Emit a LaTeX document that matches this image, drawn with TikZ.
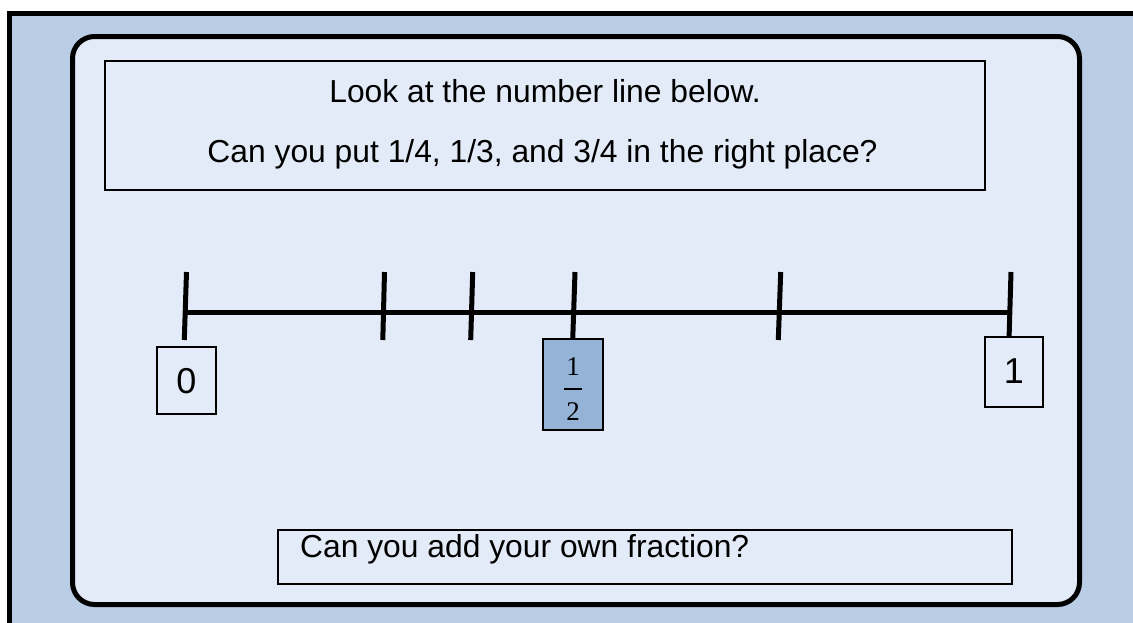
\documentclass[tikz,border=0pt]{standalone}
\usepackage{fontspec}
\setmainfont{Liberation Sans}
\newfontfamily\fracfont{Liberation Serif}
\definecolor{outerblue}{HTML}{B9CDE5}
\definecolor{innerblue}{HTML}{E3EBF8}
\definecolor{halfblue}{HTML}{95B3D7}
\begin{document}
\begin{tikzpicture}[x=1pt,y=-1pt,
  txt/.style={font=\fontsize{31.8}{38}\selectfont, inner sep=0pt},
  numtxt/.style={font=\fontsize{36}{42}\selectfont, inner sep=0pt},
  fractxt/.style={font=\fracfont\fontsize{27}{32}\selectfont, inner sep=0pt},
  lab/.style={draw=black, line width=1.2pt, fill=innerblue, inner sep=0pt},
  tick/.style={line width=5pt},
]
\useasboundingbox (0,0) rectangle (1133,622);
\begin{scope}
\clip (0,0) rectangle (1133,622);
\draw[line width=4.5pt, fill=outerblue] (9.5,13.5) rectangle (1150,640);
\end{scope}
\draw[line width=5pt, fill=innerblue, rounded corners=22pt] (72.5,36.5) rectangle (1079.5,604.5);
% top question box
\node[lab, minimum width=880pt, minimum height=129pt] (qbox) at (545,125.5) {};
\node[txt, anchor=base] (q1) at (545,102) {Look at the number line below.};
\node[txt, anchor=base] (q2) at (542.5,162) {Can you put 1/4, 1/3, and 3/4 in the right place?};
% number line
\coordinate (L) at (186,312.5);
\coordinate (R) at (1010,312.5);
\draw[tick] (L) -- (R);
\coordinate (t0a) at (186.5,272); \coordinate (t0b) at (184.3,340);
\coordinate (t1a) at (384.5,272); \coordinate (t1b) at (382.8,340);
\coordinate (t2a) at (472.7,272); \coordinate (t2b) at (470.7,340);
\coordinate (t3a) at (575,272);   \coordinate (t3b) at (572.7,340);
\coordinate (t4a) at (780.7,272); \coordinate (t4b) at (778.3,340);
\coordinate (t5a) at (1011,272);  \coordinate (t5b) at (1009,340);
\foreach \i in {0,...,5} {\draw[tick] (t\i a) -- (t\i b);}
% labels
\node[lab, minimum width=59pt, minimum height=67pt] (zero) at (186.5,380.5) {};
\node[numtxt, anchor=base] (zerot) at (186.5,393) {0};
\node[lab, fill=halfblue, line width=1.6pt, minimum width=60pt, minimum height=91pt] (half) at (573,384.5) {};
\node[fractxt, anchor=base] (hnum) at (573,375) {1};
\coordinate (barL) at (564,389); \coordinate (barR) at (581.5,389);
\draw[line width=2.5pt] (barL) -- (barR);
\node[fractxt, anchor=base] (hden) at (573,420) {2};
\node[lab, minimum width=58pt, minimum height=70pt] (one) at (1014,372) {};
\node[numtxt, anchor=base] (onet) at (1014,383) {1};
% bottom box
\node[lab, minimum width=734pt, minimum height=54pt] (abox) at (645,557) {};
\node[txt, anchor=base west] (a1) at (300,557) {Can you add your own fraction?};
\end{tikzpicture}
\end{document}
